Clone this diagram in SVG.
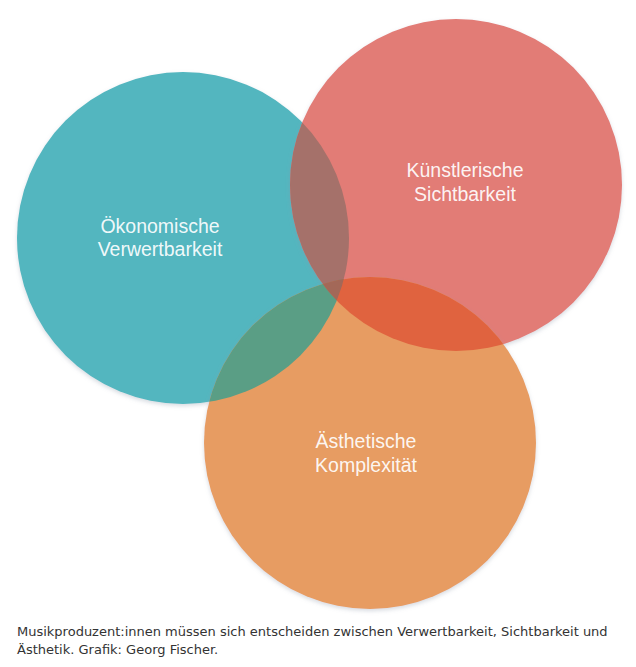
<svg xmlns="http://www.w3.org/2000/svg" width="636" height="667" viewBox="0 0 636 667">
<style>
.lbl{font-family:"Liberation Sans",Arial,sans-serif;font-size:19.5px;fill:#ffffff;fill-opacity:0.93;text-anchor:middle}
.cap{font-family:"DejaVu Sans",Verdana,sans-serif;font-size:13px;fill:#333333}
</style>
<defs>
<filter id="sh" x="-10%" y="-10%" width="120%" height="125%">
<feDropShadow dx="0" dy="2" stdDeviation="2" flood-color="#8a94a8" flood-opacity="0.35"/>
</filter>
<clipPath id="cT"><circle cx="183" cy="238" r="166"/></clipPath>
<clipPath id="cR"><circle cx="456" cy="185" r="166"/></clipPath>
</defs>
<rect width="636" height="667" fill="#ffffff"/>
<g id="node-oekonomisch">
<circle cx="183" cy="238" r="166" fill="#52B6BF" filter="url(#sh)"/>
</g>
<g id="node-kuenstlerisch">
<circle cx="456" cy="185" r="166" fill="#E27B76" filter="url(#sh)"/>
</g>
<g id="node-aesthetisch">
<circle cx="370" cy="443" r="166" fill="#E79C62" filter="url(#sh)"/>
</g>
<g id="overlaps">
<circle cx="456" cy="185" r="166" fill="#A5716A" clip-path="url(#cT)"/>
<circle cx="370" cy="443" r="166" fill="#5A9E85" clip-path="url(#cT)"/>
<circle cx="370" cy="443" r="166" fill="#E0633F" clip-path="url(#cR)"/>
<g clip-path="url(#cT)"><circle cx="370" cy="443" r="166" fill="#A36858" clip-path="url(#cR)"/></g>
</g>
<g id="labels">
<text class="lbl" x="160" y="233">Ökonomische</text>
<text class="lbl" x="160" y="256">Verwertbarkeit</text>
<text class="lbl" x="465" y="177">Künstlerische</text>
<text class="lbl" x="465" y="201">Sichtbarkeit</text>
<text class="lbl" x="366" y="448">Ästhetische</text>
<text class="lbl" x="366" y="472">Komplexität</text>
</g>
<g id="caption">
<text class="cap" x="17" y="636">Musikproduzent:innen müssen sich entscheiden zwischen Verwertbarkeit, Sichtbarkeit und</text>
<text class="cap" x="17" y="654">Ästhetik. Grafik: Georg Fischer.</text>
</g>
</svg>
